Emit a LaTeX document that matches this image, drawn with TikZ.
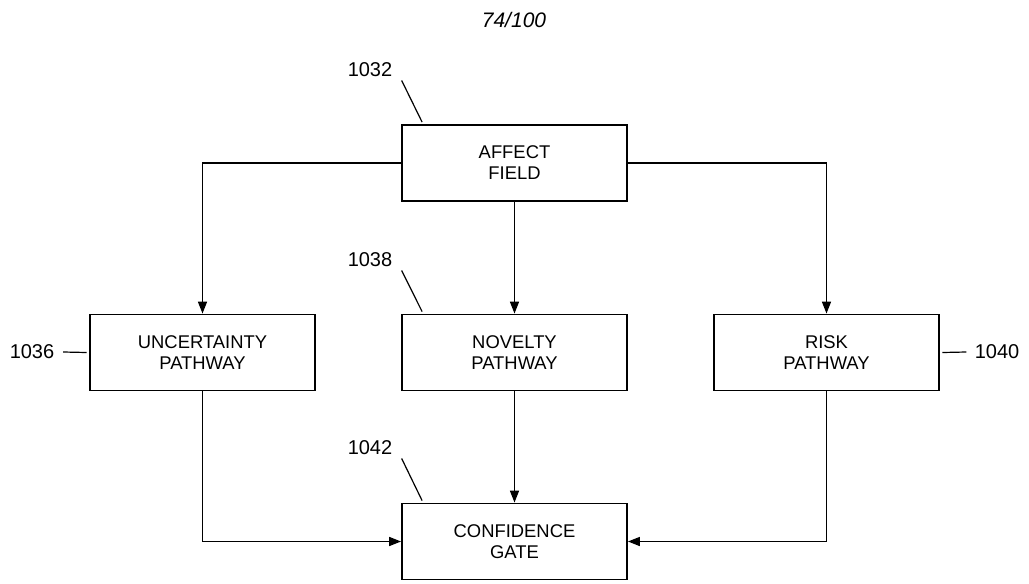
\documentclass[tikz,border=0pt]{standalone}
\usepackage{fontspec}
\setmainfont{Liberation Sans}
\usetikzlibrary{arrows.meta}
\begin{document}
\begin{tikzpicture}[x=0.5pt,y=-0.5pt,
  box/.style={draw,line width=0.9pt,minimum width=112.5pt,minimum height=38pt,align=center,font=\fontsize{9.2}{10.5}\selectfont},
  refnum/.style={font=\fontsize{10}{12}\selectfont,inner sep=0pt},
  flow/.style={-{Triangle[length=6pt,width=4.5pt]},line width=0.75pt},
  lead/.style={line width=0.6pt}]
\useasboundingbox (0,0) rectangle (1029,584);
\node[font=\itshape\fontsize{10.5}{12}\selectfont] (page) at (514,20) {74/100};
% blocks
\node[box] (affect) at (514.5,163) {AFFECT\\FIELD};
\node[box] (uncert) at (202.5,352.5) {UNCERTAINTY\\PATHWAY};
\node[box] (novelty) at (514.5,352.5) {NOVELTY\\PATHWAY};
\node[box] (risk) at (826.5,352.5) {RISK\\PATHWAY};
\node[box] (gate) at (514.5,541.5) {CONFIDENCE\\GATE};
% flows
\draw[flow] (affect.west) -| (uncert.north);
\draw[flow] (affect.east) -| (risk.north);
\draw[flow] (affect) -- (novelty);
\draw[flow] (novelty) -- (gate);
\draw[flow] (uncert.south) |- (gate.west);
\draw[flow] (risk.south) |- (gate.east);
% reference numerals
\node[refnum] (l1032) at (370,70) {1032};
\node[refnum] (l1038) at (370,260) {1038};
\node[refnum] (l1042) at (370,448) {1042};
\node[refnum] (l1036) at (32,352) {1036};
\node[refnum] (l1040) at (997,352) {1040};
\draw[lead] ([shift={(9,3)}]l1032.south east) -- ([shift={(21,-2)}]affect.north west);
\draw[lead] ([shift={(9,3)}]l1038.south east) -- ([shift={(21,-2)}]novelty.north west);
\draw[lead] ([shift={(9,3)}]l1042.south east) -- ([shift={(21,-2)}]gate.north west);
\draw[lead] ([shift={(8.5,0)}]l1036.east) -- ([shift={(-2.5,0)}]uncert.west);
\draw[lead] ([shift={(-8,0)}]l1040.west) -- ([shift={(2.5,0)}]risk.east);
\end{tikzpicture}
\end{document}
